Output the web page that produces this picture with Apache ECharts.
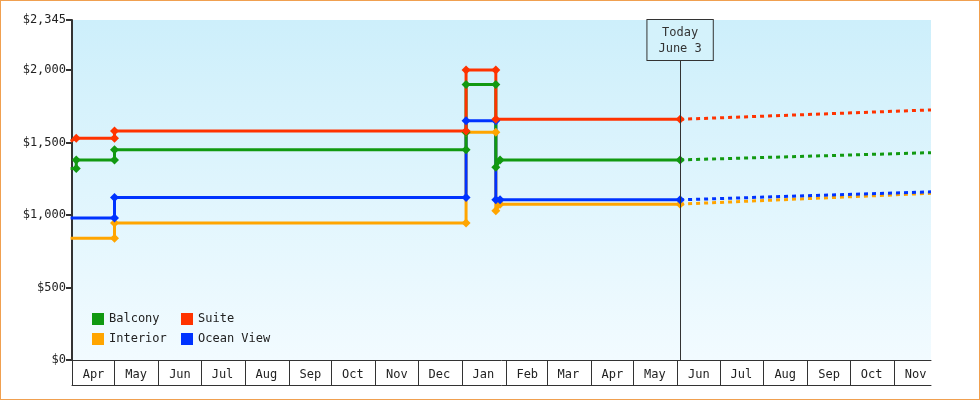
<!DOCTYPE html>
<html>
<head>
<meta charset="utf-8">
<script src="https://cdn.jsdelivr.net/npm/echarts@6/dist/echarts.min.js"></script>
<style>
  html, body { margin: 0; padding: 0; }
  #main { width: 978px; height: 398px; border: 1px solid #f0a050; }
</style>
</head>
<body>
<div id="main"></div>
<script>
// step points: [date, price]
const balcony = [
  ['2023-03-31', 1320], ['2023-04-04', 1320], ['2023-04-04', 1380], ['2023-05-01', 1380],
  ['2023-05-01', 1450], ['2024-01-04', 1450], ['2024-01-04', 1570], ['2024-01-04', 1900],
  ['2024-01-25', 1900], ['2024-01-25', 1330], ['2024-01-28', 1380], ['2024-06-03', 1380]
];
const suite = [
  ['2023-03-31', 1510], ['2023-04-04', 1530], ['2023-05-01', 1530], ['2023-05-01', 1580],
  ['2024-01-04', 1580], ['2024-01-04', 2000], ['2024-01-25', 2000], ['2024-01-25', 1660],
  ['2024-06-03', 1660]
];
const interior = [
  ['2023-03-31', 840], ['2023-05-01', 840], ['2023-05-01', 945], ['2024-01-04', 945],
  ['2024-01-04', 1570], ['2024-01-25', 1570], ['2024-01-25', 1030], ['2024-01-28', 1075],
  ['2024-06-03', 1075]
];
const oceanView = [
  ['2023-03-31', 980], ['2023-05-01', 980], ['2023-05-01', 1120], ['2024-01-04', 1120],
  ['2024-01-04', 1650], ['2024-01-25', 1650], ['2024-01-25', 1105], ['2024-01-28', 1105],
  ['2024-06-03', 1105]
];
// forecast (dotted)
const balconyFc = [['2024-06-03', 1380], ['2024-11-27', 1430]];
const suiteFc = [['2024-06-03', 1660], ['2024-11-27', 1725]];
const interiorFc = [['2024-06-03', 1075], ['2024-11-27', 1150]];
const oceanFc = [['2024-06-03', 1105], ['2024-11-27', 1160]];
const todayDate = '2024-06-03';
const colors = { Balcony: '#119911', Suite: '#ff3300', Interior: '#ffa500', 'Ocean View': '#0033ff' };

const font = 'DejaVu Sans Mono';
const chart = echarts.init(document.getElementById('main'));

function solid(name, data) {
  return {
    name, type: 'line', data, symbol: 'diamond', symbolSize: 9,
    color: colors[name], lineStyle: { width: 3 }, animation: false, z: 3
  };
}
function dotted(name, data) {
  return {
    name, type: 'line', data, symbol: 'none', color: colors[name],
    lineStyle: { width: 3, type: [4, 4] }, animation: false, z: 2
  };
}

const series = [
  solid('Interior', interior), solid('Ocean View', oceanView),
  solid('Balcony', balcony), solid('Suite', suite),
  dotted('Interior', interiorFc), dotted('Ocean View', oceanFc),
  dotted('Balcony', balconyFc), dotted('Suite', suiteFc)
];
series[0].markLine = {
  symbol: 'none', silent: true, animation: false,
  lineStyle: { color: '#333', width: 1, type: 'solid' },
  label: {
    show: true, position: 'end', formatter: 'Today\nJune 3', fontFamily: font, fontSize: 12,
    color: '#333', backgroundColor: '#d4f2fb', borderColor: '#333', borderWidth: 1,
    padding: [5, 11, 3, 11], lineHeight: 16, distance: 0
  },
  data: [[{ coord: [todayDate, 0] }, { coord: [todayDate, 2069] }]]
};

const textStyle = { fontFamily: font, fontSize: 12, color: '#222' };
chart.setOption({
  textStyle: { fontFamily: font },
  grid: {
    left: 71, right: 48, top: 19, bottom: 39, show: true, borderWidth: 0,
    backgroundColor: new echarts.graphic.LinearGradient(0, 0, 0, 1, [
      { offset: 0, color: '#cdeffb' }, { offset: 1, color: '#f2fbff' }
    ])
  },
  legend: [
    { data: ['Balcony', 'Interior'], orient: 'vertical', left: 91, top: 312, itemWidth: 12, itemHeight: 12,
      itemGap: 8, icon: 'rect', textStyle, padding: 0, selectedMode: false },
    { data: ['Suite', 'Ocean View'], orient: 'vertical', left: 180, top: 312, itemWidth: 12, itemHeight: 12,
      itemGap: 8, icon: 'rect', textStyle, padding: 0, selectedMode: false }
  ],
  xAxis: [
    {
      type: 'time', min: '2023-04-01', max: '2024-11-27',
      minInterval: 28 * 86400000, maxInterval: 31 * 86400000,
      axisLine: { show: true, lineStyle: { color: '#333', width: 1 } },
      axisTick: { show: true, length: 25, lineStyle: { color: '#333' } },
      splitLine: { show: false },
      axisLabel: {
        fontFamily: font, fontSize: 12, color: '#222', margin: 9, showMinLabel: true,
        padding: [0, 0, 0, 43],
        formatter: v => ['Jan','Feb','Mar','Apr','May','Jun','Jul','Aug','Sep','Oct','Nov','Dec'][new Date(v).getMonth()]
      }
    },
    {
      type: 'time', min: '2023-04-01', max: '2024-11-27', position: 'bottom', offset: 25,
      axisLine: { show: true, lineStyle: { color: '#333', width: 1 } },
      axisTick: { show: false }, axisLabel: { show: false }, splitLine: { show: false }
    }
  ],
  yAxis: {
    type: 'value', min: 0, max: 2345, interval: 500,
    axisLine: { show: true, lineStyle: { color: '#333', width: 2 } },
    axisTick: { show: true, length: 6, lineStyle: { color: '#333', width: 2 } },
    splitLine: { show: false },
    axisLabel: {
      fontFamily: font, fontSize: 12, color: '#222', margin: 6,
      formatter: v => '$' + v.toLocaleString('en-US')
    }
  },
  series
});
</script>
</body>
</html>
